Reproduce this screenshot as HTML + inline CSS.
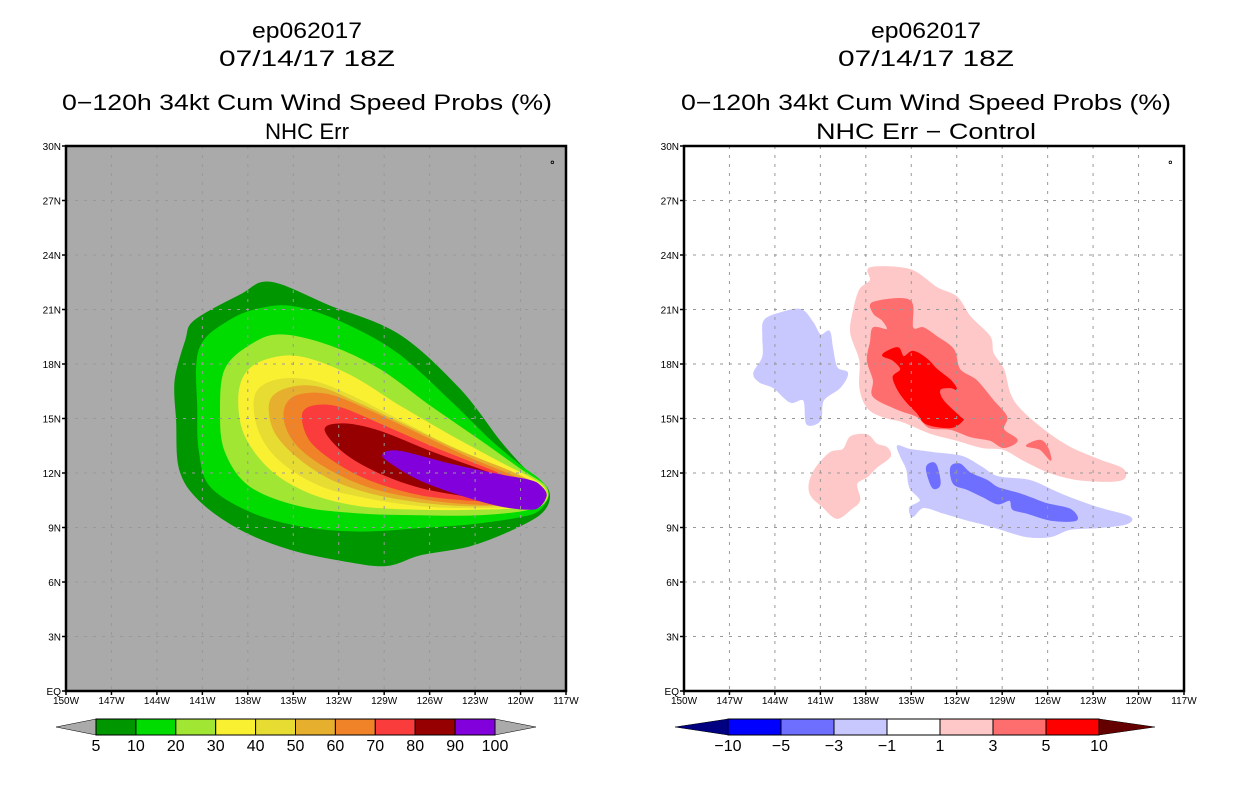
<!DOCTYPE html>
<html><head><meta charset="utf-8"><style>
html,body{margin:0;padding:0;background:#fff}
svg{display:block}
text{font-family:"Liberation Sans",sans-serif;fill:#000}
</style></head><body>
<svg id="c" width="1236" height="800" viewBox="0 0 1236 800"></svg>
<script>
// ---------- data ----------
const lonTicks=[150,147,144,141,138,135,132,129,126,123,120,117];
const latTicks=[0,3,6,9,12,15,18,21,24,27,30];
const probLevels=[5,10,20,30,40,50,60,70,80,90,100];
const probColors=['#009600','#00dc00','#a0e632','#faf032','#e6dc32','#e6af2d','#f08228','#fa3c3c','#960000','#8200dc'];
const diffLevels=[-10,-5,-3,-1,1,3,5,10];
const diffColors=['#000080','#0000ff','#6e6eff','#c8c8ff','#ffffff','#ffc8c8','#ff6e6e','#ff0000','#640000'];
// probability contours [lonW, latN]
const p5=[[141.5,20.4],[138.5,21.8],[136.5,22.5],[132.6,21.2],[128.0,19.6],[124.0,16.6],[121.4,13.8],[119.7,12.2],[118.2,11.1],[118.4,10.0],[120.0,9.1],[123.3,8.0],[126.6,7.5],[128.9,6.9],[131.9,7.2],[135.2,7.8],[138.5,8.9],[141.2,10.5],[142.5,12.2],[142.7,14.9],[142.8,17.1],[142.1,19.3]];
const p10=[[141.2,18.8],[139.2,20.4],[136.9,21.1],[134.6,21.1],[131.3,20.1],[128.0,18.5],[124.7,16.0],[122.0,13.8],[120.0,12.4],[118.7,11.6],[118.2,10.9],[118.7,10.0],[120.0,9.6],[123.3,9.2],[126.6,9.0],[130.6,8.8],[134.6,9.1],[137.9,9.9],[140.5,11.3],[141.2,13.2],[141.3,15.4]];
const p20=[[139.5,17.7],[137.9,19.0],[135.9,19.6],[132.6,19.0],[129.3,17.7],[126.0,15.7],[122.7,13.8],[120.0,12.2],[118.4,11.3],[118.3,10.5],[119.4,10.0],[122.7,9.7],[126.6,9.7],[130.6,9.8],[134.6,10.2],[137.9,11.3],[139.5,13.2],[139.8,15.4]];
const p30=[[138.2,17.4],[136.9,18.2],[134.6,18.4],[131.3,17.4],[128.0,15.7],[124.7,14.1],[121.4,12.6],[118.7,11.4],[118.4,10.5],[120.0,10.1],[123.3,10.0],[126.6,10.0],[130.6,10.2],[133.9,10.9],[136.5,12.2],[138.2,14.1],[138.6,16.0]];
const p40=[[137.5,16.3],[136.2,17.1],[133.9,17.1],[131.3,16.3],[128.0,14.9],[124.7,13.5],[121.4,12.3],[118.7,11.3],[118.5,10.5],[120.0,10.2],[123.3,10.1],[126.6,10.2],[129.9,10.6],[133.2,11.3],[135.9,12.7],[137.3,14.4]];
const p50=[[136.5,16.0],[135.2,16.7],[133.2,16.7],[130.6,15.8],[127.3,14.5],[124.0,13.2],[120.7,12.1],[118.7,11.2],[118.6,10.5],[120.0,10.3],[123.3,10.2],[126.6,10.4],[129.9,10.9],[132.6,11.7],[134.9,13.0],[136.3,14.4]];
const p60=[[135.5,15.7],[134.6,16.3],[132.6,16.3],[129.9,15.4],[126.6,14.1],[123.3,12.8],[120.4,11.8],[118.7,11.1],[118.6,10.5],[120.0,10.3],[123.3,10.3],[126.6,10.6],[129.9,11.2],[132.6,12.2],[134.6,13.4],[135.5,14.6]];
const p70=[[134.4,15.2],[133.6,15.7],[131.9,15.6],[129.3,14.7],[126.0,13.5],[122.7,12.4],[120.0,11.5],[118.7,11.1],[118.7,10.5],[120.0,10.4],[123.3,10.5],[126.6,10.8],[129.9,11.6],[132.2,12.6],[133.9,13.8]];
const p80=[[132.9,14.4],[131.6,14.7],[129.3,14.3],[126.0,13.2],[122.7,12.2],[120.0,11.4],[118.8,11.0],[118.8,10.5],[120.0,10.4],[123.3,10.7],[126.6,11.2],[129.3,12.0],[131.6,13.1]];
const p90=[[129.1,13.0],[128.0,13.2],[124.7,12.5],[121.4,11.9],[119.4,11.6],[118.7,11.3],[118.3,10.8],[118.7,10.2],[119.4,10.0],[121.4,10.2],[124.0,10.8],[126.6,11.6],[128.3,12.4]];
const probShapes=[p5,p10,p20,p30,p40,p50,p60,p70,p80,p90];
// difference contours
const dPos1=[[137.7,23.3],[135.1,23.2],[133.3,22.2],[132.0,21.7],[131.1,20.6],[129.8,19.5],[129.6,18.6],[128.9,17.7],[128.5,16.4],[127.8,15.5],[126.3,14.4],[124.5,13.4],[122.5,12.7],[121.0,12.2],[121.2,11.6],[123.7,11.6],[125.8,12.0],[127.6,12.7],[128.9,13.3],[130.3,13.4],[132.0,13.8],[133.8,14.2],[135.5,14.8],[136.9,15.1],[137.9,15.6],[138.4,16.7],[138.4,18.2],[139.0,19.7],[138.8,21.0],[138.4,22.1],[137.7,22.6]];
const dPos1b=[[139.0,14.0],[137.9,14.1],[137.3,13.6],[136.6,13.4],[136.4,12.9],[137.3,12.3],[137.9,11.8],[138.6,11.4],[138.4,10.5],[139.0,10.0],[139.9,9.5],[140.8,10.1],[141.7,10.9],[141.5,12.0],[140.4,13.1],[139.5,13.3]];
const dPos3=[[137.5,21.4],[135.1,21.5],[134.9,20.0],[134.2,20.0],[133.3,19.5],[132.2,18.8],[131.8,17.7],[130.7,17.1],[129.6,16.0],[128.7,15.1],[128.9,14.4],[128.0,13.8],[128.9,13.4],[129.8,13.8],[131.1,14.0],[132.4,14.4],[133.8,14.5],[134.6,15.1],[135.9,15.5],[137.5,16.2],[137.5,17.1],[137.9,18.2],[137.7,19.2],[137.5,20.0],[136.6,19.9],[136.9,20.4],[137.5,20.8]];
const dPos3b=[[127.4,13.5],[126.5,13.8],[126.0,13.4],[125.8,12.7],[126.5,13.3]];
const dPos5=[[136.9,18.5],[135.9,18.9],[135.5,18.4],[134.9,18.7],[134.0,18.3],[133.3,17.7],[132.4,17.1],[132.0,16.6],[132.4,16.7],[133.1,16.6],[132.9,16.0],[131.8,15.1],[131.6,14.9],[132.4,14.5],[134.0,14.7],[134.6,15.3],[135.3,15.9],[135.9,16.6],[136.2,17.3],[135.7,17.7],[136.2,18.2]];
const dNeg1a=[[144.7,20.4],[143.7,20.8],[142.3,21.0],[141.5,20.3],[141.0,19.6],[140.4,19.8],[140.2,18.9],[139.9,17.8],[139.2,17.5],[139.7,16.7],[140.8,16.0],[141.0,14.9],[141.9,14.7],[142.1,16.0],[143.0,15.9],[144.1,16.7],[145.0,17.0],[145.4,17.5],[144.8,18.4],[144.8,19.5]];
const dNeg1b=[[135.9,13.5],[135.1,13.3],[133.3,13.1],[131.6,12.9],[130.3,12.3],[129.3,11.8],[127.2,11.6],[125.8,11.1],[124.7,10.7],[122.7,10.1],[120.6,9.6],[120.8,9.2],[122.5,9.0],[124.5,8.9],[125.8,8.5],[127.4,8.5],[129.1,8.9],[130.3,9.2],[131.3,9.4],[132.9,9.8],[134.2,10.1],[134.9,9.6],[135.1,10.1],[134.4,10.5],[135.1,11.2],[135.3,12.2],[135.7,12.9]];
const dNeg3a=[[132.4,12.3],[131.8,12.5],[131.1,12.0],[130.0,11.6],[129.3,11.2],[128.0,10.9],[127.0,10.6],[126.0,10.3],[124.5,10.0],[124.1,9.4],[125.8,9.4],[127.4,9.8],[128.3,10.0],[128.5,10.5],[129.3,10.3],[130.3,10.7],[131.3,11.1],[132.2,11.4]];
const dNeg3b=[[134.0,12.3],[133.4,12.5],[133.1,11.4],[133.6,11.2]];
const diffShapes=[[dPos1,5],[dPos1b,5],[dNeg1a,3],[dNeg1b,3],[dPos3,6],[dPos3b,6],[dPos5,7],[dNeg3a,2],[dNeg3b,2]];

// ---------- drawing ----------
const NS='http://www.w3.org/2000/svg';
const svg=document.getElementById('c');
function mk(tag,attrs,parent){const e=document.createElementNS(NS,tag);for(const k in attrs)e.setAttribute(k,attrs[k]);(parent||svg).appendChild(e);return e;}
const W=500,H=545,TOP=146;
function xS(x0,w){return x0+(150-w)*W/33;}
function yS(lat){return TOP+H-lat*H/30;}
function txt(x,y,s,size,anchor,parent,name,len){const t=mk('text',{x:x,y:y,'font-size':size,'text-anchor':anchor||'middle'},parent);if(len){t.setAttribute('textLength',len);t.setAttribute('lengthAdjust','spacingAndGlyphs');}t.textContent=s;return t;}
function smoothPath(P){const n=P.length;let d='M'+P[0][0].toFixed(1)+','+P[0][1].toFixed(1);
  for(let i=0;i<n;i++){const p0=P[(i-1+n)%n],p1=P[i],p2=P[(i+1)%n],p3=P[(i+2)%n];const t=0.5/3;
    const c1=[p1[0]+(p2[0]-p0[0])*t,p1[1]+(p2[1]-p0[1])*t],c2=[p2[0]-(p3[0]-p1[0])*t,p2[1]-(p3[1]-p1[1])*t];
    d+=' C'+c1[0].toFixed(1)+','+c1[1].toFixed(1)+' '+c2[0].toFixed(1)+','+c2[1].toFixed(1)+' '+p2[0].toFixed(1)+','+p2[1].toFixed(1);}
  return d+'Z';}
function poly(x0,pts,fill,parent,name){const P=pts.map(p=>[xS(x0,p[0]),yS(p[1])]);const e=mk('path',{d:smoothPath(P),fill:fill,stroke:fill,'stroke-width':1},parent);return e;}

function panel(x0,cx,sub,bg,drawFn,name){
  const g=mk('g',{});
  
  
  txt(cx,38,'ep062017',22,'middle',g,'storm-id',110);
  txt(cx,66,'07/14/17 18Z',22,'middle',g,'date-title',176);
  txt(cx,110,'0\u2212120h 34kt Cum Wind Speed Probs (%)',22,'middle',g,'main-title',490);
  txt(cx,139,sub,22,'middle',g,'sub-title',sub.length>8?220:84);
  const bgr=mk('rect',{x:x0,y:TOP,width:W,height:H,fill:bg},g);
  
  
  drawFn(g);
  lonTicks.slice(1,-1).forEach(w=>{const l=mk('line',{x1:xS(x0,w),x2:xS(x0,w),y1:TOP,y2:TOP+H,stroke:'#999','stroke-width':1,'stroke-dasharray':'3,6'},g);});
  latTicks.slice(1,-1).forEach(la=>{const l=mk('line',{x1:x0,x2:x0+W,y1:yS(la),y2:yS(la),stroke:'#999','stroke-width':1,'stroke-dasharray':'3,6'},g);});
  const isl=mk('circle',{cx:xS(x0,117.9),cy:yS(29.1),r:1.3,fill:'none',stroke:'#000','stroke-width':0.8},g);
  
  const fr=mk('rect',{x:x0,y:TOP,width:W,height:H,fill:'none',stroke:'#000','stroke-width':2.5},g);
  
  lonTicks.forEach(w=>{const x=xS(x0,w);mk('line',{x1:x,x2:x,y1:TOP+H,y2:TOP+H+4,stroke:'#000','stroke-width':1.5},g);txt(x,TOP+H+13,w+'W',10,'middle',g,'x-tick-label');});
  latTicks.forEach(la=>{const y=yS(la);mk('line',{x1:x0-4,x2:x0,y1:y,y2:y,stroke:'#000','stroke-width':1.5},g);txt(x0-5,y+4,la===0?'EQ':la+'N',10,'end',g,'y-tick-label');});
  return g;
}
panel(66,307,'NHC Err','#aaaaaa',g=>{probShapes.forEach((s,i)=>poly(66,s,probColors[i],g,'prob-contour-'+probLevels[i]));},'left-panel');
panel(684,926,'NHC Err \u2212 Control','#ffffff',g=>{diffShapes.forEach(([s,ci])=>poly(684,s,diffColors[ci],g,'diff-contour'));},'right-panel');

function colorbar(x1,x2,y,h,levels,colors,leftC,rightC,tl,tr,name){
  const g=mk('g',{});
  
  
  const n=colors.length;const bw=(x2-x1)/n;
  const lt=mk('polygon',{points:`${x1},${y} ${x1},${y+h} ${x1-tl},${y+h/2}`,fill:leftC,stroke:'#000','stroke-width':0.5},g);
  
  const rt=mk('polygon',{points:`${x2},${y} ${x2},${y+h} ${x2+tr},${y+h/2}`,fill:rightC,stroke:'#000','stroke-width':0.5},g);
  
  colors.forEach((c,i)=>{const r=mk('rect',{x:x1+i*bw,y:y,width:bw,height:h,fill:c,stroke:'#000','stroke-width':1},g);});
  levels.forEach((v,i)=>txt(x1+i*bw,y+h+16,String(v).replace('-','\u2212'),16,'middle',g,'colorbar-label'));
}
colorbar(96,495,719,16,probLevels,probColors,'#aaaaaa','#aaaaaa',40,41,'prob-colorbar');
colorbar(728,1099,719,16,diffLevels,diffColors.slice(1,-1),diffColors[0],diffColors[8],53,56,'diff-colorbar');
</script>
</body></html>
